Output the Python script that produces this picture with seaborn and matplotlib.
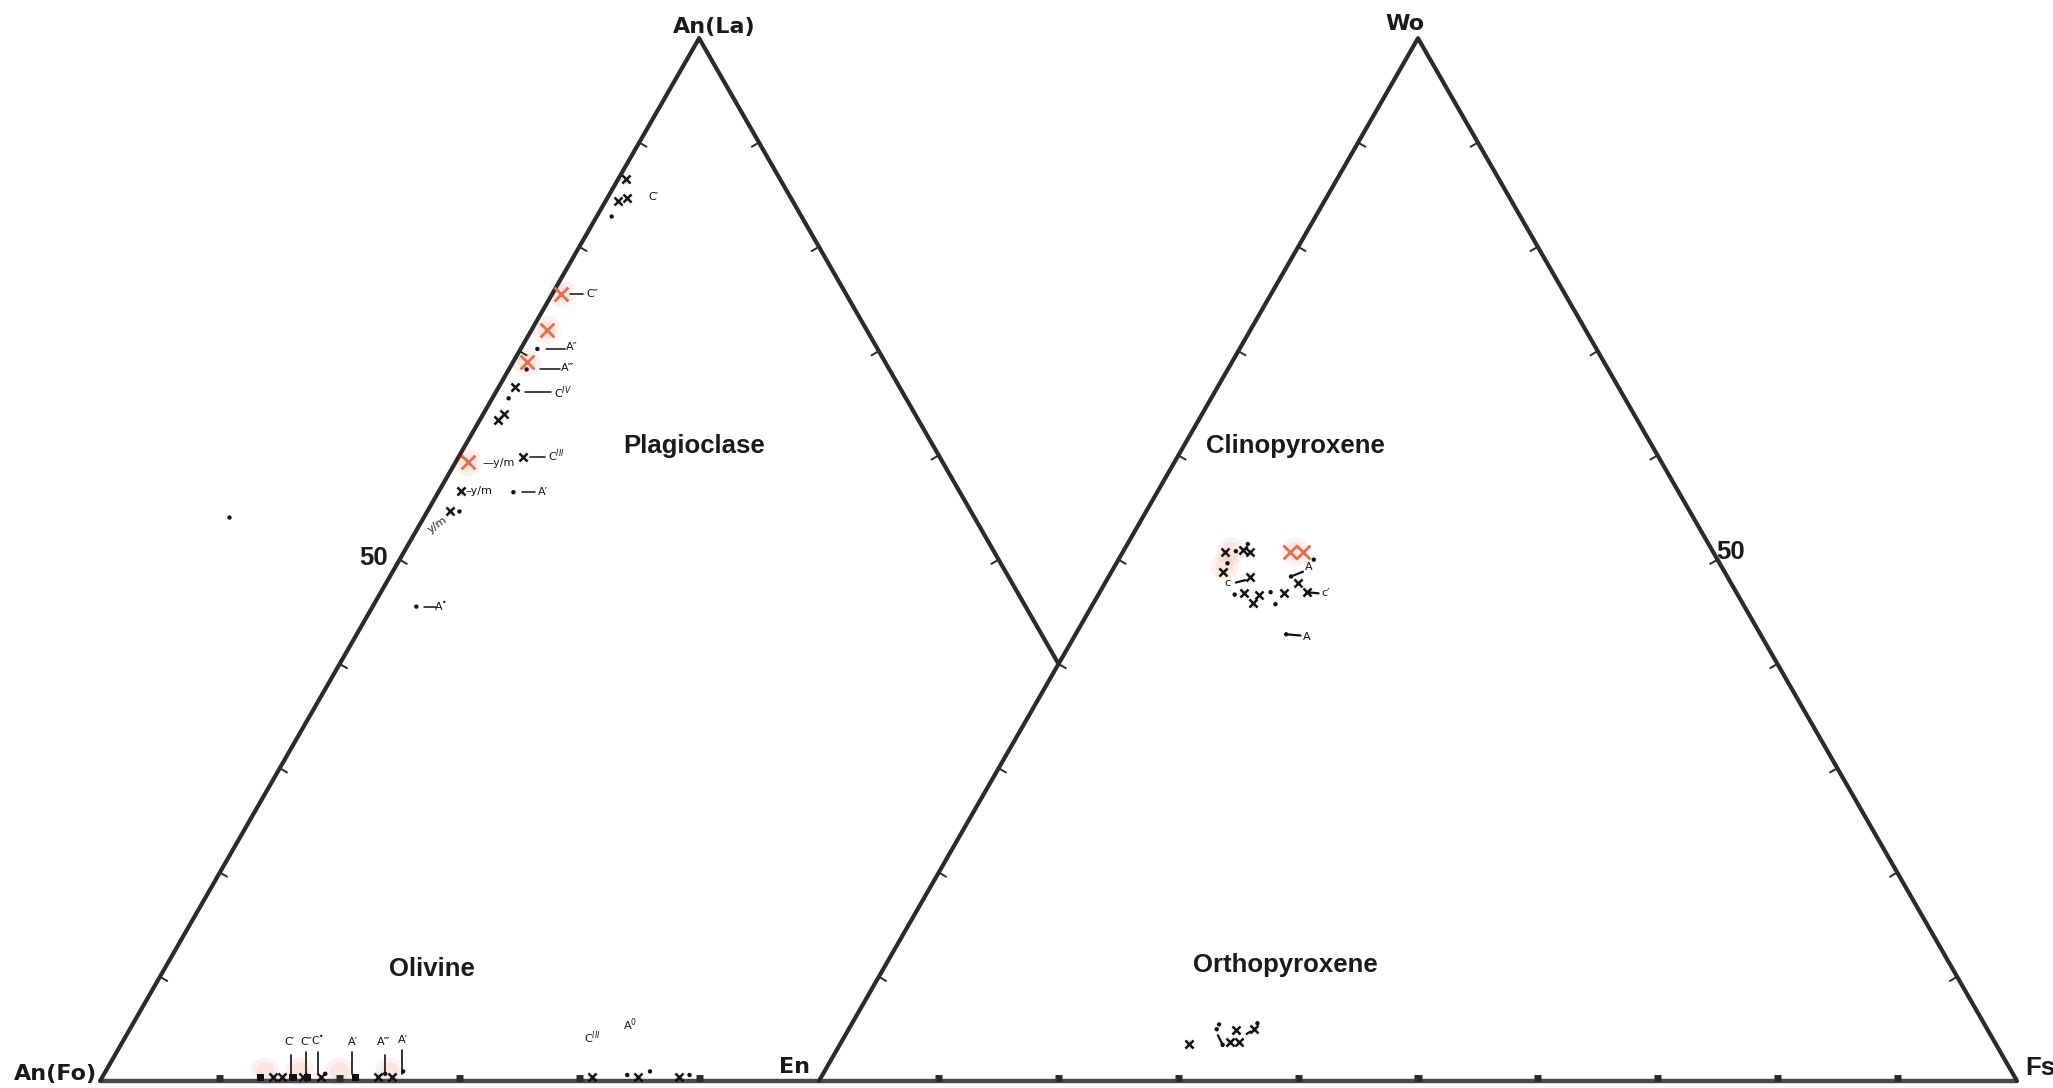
import numpy as np
import pandas as pd
import matplotlib
matplotlib.use("Agg")
import matplotlib.pyplot as plt
import seaborn as sns

# === 1. 坐标系：每个三角形底边 = 100 单位 ===
H = np.sqrt(3) / 2 * 100          # 三角形高
EDGE = "#2b2b2b"

# 左三角 An(Fo)-An(La)-...，右三角 En-Wo-Fs（从左三角 60% 处开始）
left_edge = {"x": [0, 50], "y": [0, H]}
left_right_edge = {"x": [50, 80], "y": [H, 0.4 * H]}     # 只画到与右三角相交处
right_tri = {"x": [60, 110, 160], "y": [0, H, 0]}
baseline = {"x": [0, 160], "y": [0, 0]}

# === 2. 数据点 (图上坐标) ===
# 斜长石 plagioclase
plag_x = [43.9, 43.2, 44.0, 34.6, 33.2, 33.7, 35.3, 30.1, 29.2]
plag_y = [74.9, 73.1, 73.3, 57.6, 54.9, 55.4, 51.8, 49.0, 47.3]
plag_red_x = [38.5, 37.3, 35.6, 30.7]
plag_red_y = [65.4, 62.4, 59.7, 51.4]
plag_dot_x = [42.7, 36.5, 35.6, 34.1, 34.5, 30.0, 26.4, 10.8]
plag_dot_y = [71.8, 60.8, 59.1, 56.7, 48.9, 47.3, 39.4, 46.8]
plag_seg_x0 = [39.2, 37.2, 36.7, 35.5, 35.9, 35.2, 27.0]
plag_seg_x1 = [40.3, 38.8, 38.4, 37.6, 37.1, 36.3, 28.0]
plag_seg_y = [65.4, 60.8, 59.1, 57.2, 51.8, 48.9, 39.4]
plag_lab = ["C\u2032", "C\u2033", "A\u2033", "A\u2034", "C$^{IV}$", "\u2014y/m",
            "C$^{III}$", "\u2013y/m", "A\u2032", "A$^{\u2022}$"]
plag_lab_x = [46.2, 41.1, 39.4, 39.0, 38.6, 31.9, 38.1, 30.5, 37.0, 28.4]
plag_lab_y = [73.4, 65.4, 61.0, 59.2, 57.2, 51.3, 51.9, 49.0, 48.9, 39.4]

# 单斜辉石 clinopyroxene
cpx_x = [93.9, 95.4, 96.0, 93.7, 96.0, 95.5, 96.7, 96.2, 98.8, 100.0, 100.7]
cpx_y = [43.9, 44.1, 43.9, 42.3, 41.9, 40.5, 40.4, 39.7, 40.5, 41.4, 40.6]
cpx_red_x = [99.3, 100.4]
cpx_red_y = [43.9, 43.9]
cpx_dot_x = [95.8, 94.1, 101.3, 94.7, 97.7, 98.1, 99.4, 99.0, 94.8]
cpx_dot_y = [44.6, 43.0, 43.3, 40.4, 40.6, 39.6, 41.9, 37.1, 44.0]
cpx_seg = [((94.8, 41.4), (95.6, 41.6)), ((99.4, 41.9), (100.4, 42.3)),
           ((100.7, 40.6), (101.7, 40.5)), ((99.0, 37.1), (100.2, 37.0))]
cpx_lab = ["c", "A", "c\u2032", "A"]
cpx_lab_x = [94.1, 100.9, 102.3, 100.7]
cpx_lab_y = [41.4, 42.7, 40.5, 36.9]

# 斜方辉石 orthopyroxene
opx_x = [90.9, 94.3, 95.1, 94.8, 96.3]
opx_y = [3.1, 3.2, 3.2, 4.2, 4.3]
opx_dot_x = [93.2, 93.4, 93.7, 96.6]
opx_dot_y = [4.3, 4.7, 3.0, 4.8]
opx_seg = [((93.3, 3.8), (93.7, 3.0)), ((95.7, 3.9), (96.0, 4.1))]

# 橄榄石 olivine (底边)
ol_x = [14.4, 15.2, 16.9, 18.4, 23.2, 24.4, 41.1, 44.9, 48.3]
ol_bump_x = [13.4, 16.1, 17.3, 21.3]
ol_dot_x = [18.8, 23.8, 25.3, 44.0, 45.9, 49.2]
ol_dot_y = [0.6, 0.6, 0.8, 0.5, 0.8, 0.5]
ol_vline_x = [15.9, 17.2, 18.2, 21.0, 23.8, 25.2]
ol_vline_top = [2.2, 2.4, 2.4, 2.4, 2.2, 2.6]
ol_lab = ["C\u2032", "C\u2033", "C$^{\u2022}$", "A\u2032", "A\u2034", "A\u2032",
          "C$^{III}$", "A$^{0}$"]
ol_lab_x = [15.8, 17.2, 18.2, 21.1, 23.7, 25.3, 41.1, 44.2]
ol_lab_y = [3.2, 3.2, 3.4, 3.2, 3.2, 3.4, 3.6, 4.7]

# 红色晕染
halo_x = [38.5, 37.3, 35.6, 30.7, 94.4, 93.9, 99.8, 13.8, 16.7, 20.0, 24.2]
halo_y = [65.4, 62.4, 59.7, 51.4, 44.0, 42.8, 44.0, 0.8, 0.8, 0.8, 0.8]

ticks = np.arange(10, 100, 10) / 100

# === 3. 画布 ===
sns.set_style("white")
plt.rcParams["font.family"] = ["DejaVu Sans"]
fig = plt.figure(figsize=(20.53, 10.88), dpi=100)
ax = fig.add_axes([0, 0, 1, 1])
ax.set_xlim(-8.35, 163.0)
ax.set_ylim(-0.58, 89.78)
ax.axis("off")

# 边框
ax.plot(baseline["x"], baseline["y"], color="#4a4a4a", lw=3.2, solid_capstyle="butt", zorder=2)
ax.plot(left_edge["x"], left_edge["y"], color=EDGE, lw=3, zorder=2)
ax.plot(left_right_edge["x"], left_right_edge["y"], color=EDGE, lw=3, zorder=2)
ax.plot(right_tri["x"], right_tri["y"], color=EDGE, lw=3, zorder=2)


def edge_ticks(p0, p1, fracs, normal, length=0.7):
    p0, p1, n = np.array(p0), np.array(p1), np.array(normal)
    for f in fracs:
        p = p0 + (p1 - p0) * f
        q = p + n * length
        ax.plot([p[0], q[0]], [p[1], q[1]], color=EDGE, lw=1.4, zorder=2)


inl = (0.866, -0.5)
inr = (-0.866, -0.5)
edge_ticks((0, 0), (50, H), ticks, inl)
edge_ticks((50, H), (100, 0), ticks[:5], inr)
edge_ticks((60, 0), (110, H), ticks, inl)
edge_ticks((110, H), (160, 0), ticks, inr)
base_ticks = [10, 20, 30, 40, 50, 70, 80, 90, 100, 110, 120, 130, 140, 150]
for bt in base_ticks:
    ax.plot([bt - 0.3, bt + 0.3], [0.25, 0.25], color=EDGE, lw=5,
            solid_capstyle="butt", zorder=2)

# 晕染
sns.scatterplot(x=halo_x, y=halo_y, s=420, color="#f6b49c", alpha=0.17,
                edgecolor="none", ax=ax, zorder=1)
sns.scatterplot(x=halo_x, y=halo_y, s=180, color="#f2a088", alpha=0.15,
                edgecolor="none", ax=ax, zorder=1)

# x 标记
mx = pd.DataFrame({"x": plag_x + cpx_x + opx_x + ol_x,
                   "y": plag_y + cpx_y + opx_y + [0.35] * len(ol_x)})
sns.scatterplot(data=mx, x="x", y="y", marker="x", s=34, color="#111111",
                linewidth=1.8, ax=ax, zorder=4)
sns.scatterplot(x=plag_red_x + cpx_red_x, y=plag_red_y + cpx_red_y, marker="x",
                s=100, color="#e0704f", linewidth=2.0, ax=ax, zorder=4)
sns.scatterplot(x=ol_bump_x, y=[0.3] * len(ol_bump_x), marker="s", s=28,
                color="#111111", edgecolor="none", ax=ax, zorder=4)

# 点
dots = pd.DataFrame({"x": plag_dot_x + cpx_dot_x + opx_dot_x + ol_dot_x,
                     "y": plag_dot_y + cpx_dot_y + opx_dot_y + ol_dot_y})
sns.scatterplot(data=dots, x="x", y="y", s=10, color="#111111",
                edgecolor="none", ax=ax, zorder=4)

# 连线
for x0, x1, y in zip(plag_seg_x0, plag_seg_x1, plag_seg_y):
    ax.plot([x0, x1], [y, y], color="#111111", lw=1.1, zorder=3)
for (a, b) in cpx_seg + opx_seg:
    ax.plot([a[0], b[0]], [a[1], b[1]], color="#111111", lw=1.6, zorder=3)
for x, top in zip(ol_vline_x, ol_vline_top):
    ax.plot([x, x], [0.6, top], color="#111111", lw=1.2, zorder=3)

# 手写标签
for t, x, y in zip(plag_lab + cpx_lab + ol_lab,
                   plag_lab_x + cpx_lab_x + ol_lab_x,
                   plag_lab_y + cpx_lab_y + ol_lab_y):
    ax.text(x, y, t, fontsize=8, ha="left" if "y/m" in t else "center",
            va="center", color="#111111", zorder=5)
ax.text(28.2, 46.2, "y/m", fontsize=8, rotation=35, ha="center", va="center")

# === 4. 顶点与区域文字 ===
vfont = dict(fontsize=16, fontweight="bold", color="#1a1a1a", family="DejaVu Sans")
ax.text(51.3, 87.5, "An(La)", ha="center", va="center", **vfont)
ax.text(-3.7, 0.6, "An(Fo)", ha="center", va="center", **vfont)
ax.text(58.0, 1.2, "En", ha="center", va="center", **vfont)
ax.text(108.9, 87.8, "Wo", ha="center", va="center", **vfont)

hfont = dict(fontsize=18.5, fontweight="bold", color="#1a1a1a", family="Liberation Sans")
ax.text(160.7, 1.1, "Fs", ha="left", va="center", **hfont)
ax.text(22.8, 43.4, "50", ha="center", va="center", **hfont)
ax.text(136.1, 43.9, "50", ha="center", va="center", **hfont)
ax.text(49.6, 52.7, "Plagioclase", ha="center", va="center", **hfont)
ax.text(99.8, 52.7, "Clinopyroxene", ha="center", va="center", **hfont)
ax.text(27.7, 9.3, "Olivine", ha="center", va="center", **hfont)
ax.text(98.9, 9.6, "Orthopyroxene", ha="center", va="center", **hfont)

fig.savefig("out.png", dpi=100)
